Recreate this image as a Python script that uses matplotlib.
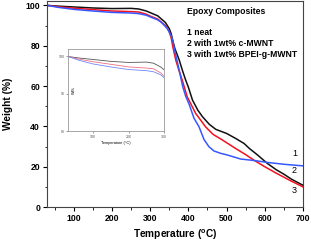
import matplotlib
matplotlib.use("Agg")
import matplotlib.pyplot as plt
from matplotlib.ticker import MultipleLocator

plt.rcParams['font.family'] = ['Liberation Sans', 'DejaVu Sans']
plt.rcParams['mathtext.fontset'] = 'custom'
plt.rcParams['mathtext.rm'] = 'Liberation Sans:bold'
plt.rcParams['mathtext.bf'] = 'Liberation Sans:bold'

# Temperatures (°C) and weights (%)
temp_black = [30, 60, 100, 150, 200, 250, 270, 290, 300, 320, 340, 350, 355, 360, 365, 370,
              376, 385, 393, 400, 411, 425, 437, 455, 472, 500, 524, 546, 560, 580, 607,
              630, 650, 670, 700]
wt_black = [100, 99.6, 99.2, 98.7, 98.4, 98.5, 98.2, 97.2, 96.4, 94.8, 91.5, 88.5, 86.0, 82.0,
            78.5, 76.0, 73.0, 67.5, 63.0, 59.5, 53.0, 48.0, 44.8, 41.0, 38.5, 36.5, 34.0,
            31.5, 29.0, 26.0, 21.6, 18.5, 16.3, 13.8, 10.8]

temp_red = [30, 60, 100, 150, 200, 250, 270, 290, 300, 320, 340, 350, 355, 360, 367, 375,
            384, 397, 419, 445, 465, 487, 524, 550, 572, 600, 630, 650, 670, 700]
wt_red = [100, 99.3, 98.6, 97.9, 97.2, 96.9, 96.7, 95.6, 94.7, 93.2, 90.0, 87.0, 84.0, 79.0,
          73.0, 68.0, 63.0, 54.7, 46.5, 39.8, 36.0, 33.5, 29.0, 26.0, 23.2, 20.0, 16.8,
          14.8, 12.8, 10.0]

temp_blue = [30, 60, 100, 150, 200, 250, 270, 290, 300, 320, 330, 345, 355, 360, 365, 370,
             376, 385, 393, 402, 415, 428, 441, 454, 467, 485, 502, 537, 575, 607, 650, 700]
wt_blue = [100, 99.0, 98.0, 97.2, 96.5, 96.2, 95.9, 95.1, 94.3, 92.8, 91.5, 88.5, 85.0, 82.0,
           77.0, 73.0, 68.0, 60.0, 55.0, 51.0, 44.0, 39.8, 33.5, 29.9, 27.8, 26.6, 25.8,
           23.8, 23.0, 22.1, 21.2, 20.4]

legend_lines = ["Epoxy Composites", "1 neat", "2 with 1wt% c-MWNT", "3 with 1wt% BPEI-g-MWNT"]
end_labels = ["1", "2", "3"]

c_black = '#111111'
c_red = '#f5101e'
c_blue = '#3558ff'

fig = plt.figure(figsize=(3.11, 2.44), dpi=100)
ax = fig.add_axes([0.151, 0.1516, 0.823, 0.843])

ax.plot(temp_black, wt_black, color=c_black, lw=1.1)
ax.plot(temp_red, wt_red, color=c_red, lw=1.1)
ax.plot(temp_blue, wt_blue, color=c_blue, lw=1.1)

ax.set_xlim(30, 700)
ax.set_ylim(0, 102)
ax.xaxis.set_major_locator(MultipleLocator(100))
ax.xaxis.set_minor_locator(MultipleLocator(50))
ax.yaxis.set_major_locator(MultipleLocator(20))
ax.yaxis.set_minor_locator(MultipleLocator(10))
ax.tick_params(which='major', direction='out', length=3, width=0.8, labelsize=6.2, pad=2)
ax.tick_params(which='minor', direction='out', length=1.8, width=0.6)
for lab in ax.get_xticklabels() + ax.get_yticklabels():
    lab.set_fontweight('bold')
for sp in ax.spines.values():
    sp.set_linewidth(0.8)
    sp.set_color('#444444')

ax.set_xlabel(r'Temperature ($^{\rm o}$C)', fontsize=7.3, fontweight='bold', labelpad=3.5)
ax.set_ylabel('Weight (%)', fontsize=7.3, fontweight='bold', labelpad=9)

# legend-like text block
ax.text(396, 96.9, legend_lines[0], fontsize=6.2, fontweight='bold', va='center', ha='left')
for i, s in enumerate(legend_lines[1:]):
    ax.text(396, 86.3 - 5.4 * i, s, fontsize=6.2, fontweight='bold', va='center', ha='left')

# curve end labels
for s, y in zip(end_labels, [26.7, 18.2, 8.3]):
    ax.text(678, y, s, fontsize=6.5, va='center', ha='center')

# inset
ax_in = fig.add_axes([0.219, 0.463, 0.309, 0.336])
ax_in.plot(temp_black, wt_black, color='#555555', lw=0.6)
ax_in.plot(temp_red, wt_red, color='#f07080', lw=0.6)
ax_in.plot(temp_blue, wt_blue, color='#6f86ff', lw=0.6)
ax_in.set_xlim(30, 300)
ax_in.set_ylim(80, 102)
ax_in.xaxis.set_major_locator(MultipleLocator(100))
ax_in.xaxis.set_minor_locator(MultipleLocator(50))
ax_in.yaxis.set_major_locator(MultipleLocator(10))
ax_in.tick_params(which='major', direction='out', length=1.5, width=0.4, labelsize=2.5, pad=1,
                  colors='#555555')
ax_in.tick_params(which='minor', direction='out', length=1, width=0.3, colors='#555555')
for sp in ax_in.spines.values():
    sp.set_linewidth(0.6)
    sp.set_color('#999999')
ax_in.set_xlabel('Temperature (°C)', fontsize=2.8, labelpad=2)
ax_in.set_ylabel('Wt%', fontsize=2.8)
ax_in.yaxis.set_label_coords(0.08, 0.5)

fig.savefig('out.png', dpi=100)
